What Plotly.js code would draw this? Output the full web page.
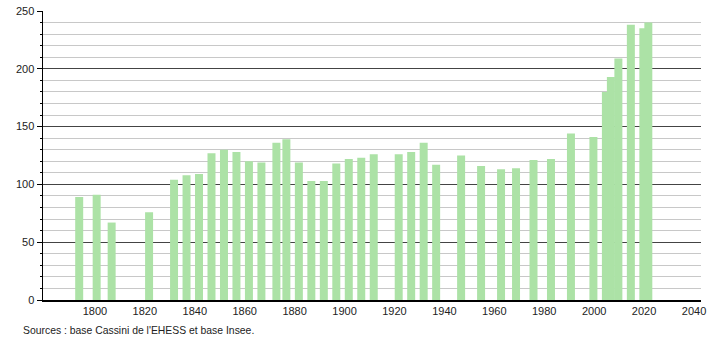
<!DOCTYPE html>
<html>
<head>
<meta charset="utf-8">
<script src="https://cdn.plot.ly/plotly-3.0.1.min.js"></script>
<style>html,body{margin:0;padding:0;background:#fff;}#chart{width:710px;height:340px;}</style>
</head>
<body>
<div id="chart"></div>
<script>
const years = [1793,1800,1806,1821,1831,1836,1841,1846,1851,1856,1861,1866,1872,1876,1881,1886,1891,1896,1901,1906,1911,1921,1926,1931,1936,1946,1954,1962,1968,1975,1982,1990,1999,2004,2006,2009,2014,2019,2021];
const population = [89,91,67,76,104,108,109,127,130,128,120,119,136,139,119,103,103,118,122,123,126,126,128,136,117,125,116,113,114,121,122,144,141,180,193,209,238,235,240];
const xTickVals = [1800,1820,1840,1860,1880,1900,1920,1940,1960,1980,2000,2020,2040];
const sourceText = "Sources : base Cassini de l'EHESS et base Insee.";

const trace = {
  type: 'bar',
  x: years,
  y: population,
  width: years.map(() => 3.2),
  offset: years.map(() => -0.9),
  marker: {color: 'rgb(172,226,166)', line: {width: 0}},
  hoverinfo: 'x+y'
};

const layout = {
  width: 710, height: 340,
  margin: {l: 43, r: 9, t: 11, b: 40, pad: 0},
  paper_bgcolor: '#fff', plot_bgcolor: '#fff',
  showlegend: false,
  font: {family: 'Liberation Sans, Arial, sans-serif', size: 11, color: '#222'},
  xaxis: {
    range: [1779.2, 2042.8],
    tickvals: xTickVals,
    ticktext: xTickVals.map(String),
    ticks: '', showgrid: false, zeroline: false,
    showline: true, linecolor: '#000', linewidth: 1.5,
    tickfont: {size: 11, color: '#222'}
  },
  yaxis: {
    range: [0, 250],
    dtick: 50, tick0: 0,
    ticks: 'outside', ticklen: 5, tickcolor: '#000', tickwidth: 1,
    showline: true, linecolor: '#000', linewidth: 1.5,
    showgrid: true, gridcolor: '#444', gridwidth: 1,
    zeroline: false,
    tickfont: {size: 11, color: '#222'},
    minor: {dtick: 10, ticks: 'outside', ticklen: 2, tickcolor: '#000', showgrid: true, gridcolor: '#c8c8c8', gridwidth: 1}
  },
  annotations: [{
    text: sourceText, xref: 'paper', yref: 'paper',
    x: -0.0335, y: -0.104, xanchor: 'left', yanchor: 'middle',
    showarrow: false, font: {size: 10.4, color: '#222'}
  }]
};

Plotly.newPlot('chart', [trace], layout, {displayModeBar: false, staticPlot: true});
</script>
</body>
</html>
